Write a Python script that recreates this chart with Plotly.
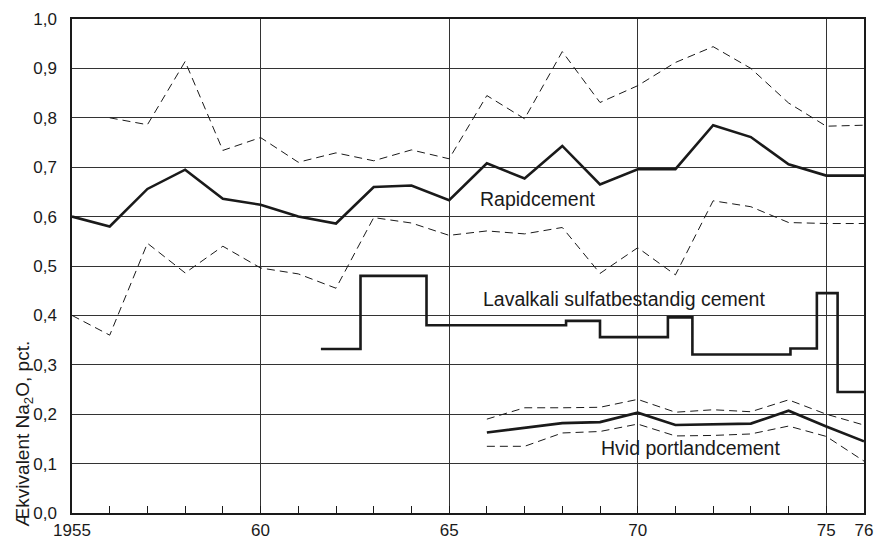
import plotly.graph_objects as go

years = list(range(1955, 1977))
rapid = [0.60, 0.58, 0.656, 0.695, 0.636, 0.624, 0.60, 0.586, 0.66, 0.663, 0.633,
         0.708, 0.677, 0.743, 0.665, 0.696, 0.696, 0.785, 0.761, 0.706, 0.683, 0.683]
rapid_up_years = list(range(1956, 1977))
rapid_up = [0.80, 0.786, 0.914, 0.734, 0.76, 0.71, 0.729, 0.713, 0.735, 0.717,
            0.845, 0.798, 0.934, 0.831, 0.865, 0.912, 0.944, 0.90, 0.83, 0.783, 0.785]
rapid_lo = [0.40, 0.36, 0.546, 0.486, 0.54, 0.496, 0.484, 0.455, 0.598, 0.587, 0.562,
            0.571, 0.565, 0.578, 0.485, 0.537, 0.482, 0.632, 0.62, 0.588, 0.586, 0.586]

lav_x = [1961.6, 1962.65, 1964.4, 1968.1, 1969.0, 1970.8, 1971.45, 1974.05, 1974.75, 1975.3, 1976]
lav_y = [0.332, 0.48, 0.38, 0.389, 0.356, 0.396, 0.321, 0.333, 0.445, 0.245, 0.245]

hvid_years = list(range(1966, 1977))
hvid = [0.163, 0.173, 0.182, 0.184, 0.203, 0.178, 0.179, 0.181, 0.207, 0.175, 0.145]
hvid_up = [0.19, 0.213, 0.213, 0.214, 0.23, 0.204, 0.209, 0.205, 0.229, 0.2, 0.178]
hvid_lo = [0.135, 0.135, 0.162, 0.165, 0.18, 0.156, 0.157, 0.16, 0.176, 0.155, 0.105]

labelled = {1955: "1955", 1960: "60", 1965: "65", 1970: "70", 1975: "75", 1976: "76"}
xtick_vals = years
xtick_text = [labelled.get(y, "") for y in years]
xgrid_vals = [1960, 1965, 1970, 1975]
ytick_vals = [0.0, 0.1, 0.2, 0.3, 0.4, 0.5, 0.6, 0.7, 0.8, 0.9, 1.0]
ytick_text = ["0,0", "0,1", "0,2", "0,3", "0,4", "0,5", "0,6", "0,7", "0,8", "0,9", "1,0"]

BLACK = "#1a1a1a"
FONT = "Liberation Sans, Arial, sans-serif"
thick = dict(color=BLACK, width=2.6)
dashed = dict(color=BLACK, width=1, dash="8px,5px")

fig = go.Figure()
fig.add_trace(go.Scatter(x=years, y=rapid, mode="lines", line=thick))
fig.add_trace(go.Scatter(x=rapid_up_years, y=rapid_up, mode="lines", line=dashed, xaxis="x2"))
fig.add_trace(go.Scatter(x=years, y=rapid_lo, mode="lines", line=dashed))
fig.add_trace(go.Scatter(x=lav_x, y=lav_y, mode="lines", line=dict(color=BLACK, width=2.6, shape="hv")))
fig.add_trace(go.Scatter(x=hvid_years, y=hvid, mode="lines", line=thick))
fig.add_trace(go.Scatter(x=hvid_years, y=hvid_up, mode="lines", line=dashed))
fig.add_trace(go.Scatter(x=hvid_years, y=hvid_lo, mode="lines", line=dashed))

ann_font = dict(family=FONT, size=19.5, color=BLACK)
fig.add_annotation(x=1967.35, y=0.636, text="Rapidcement", showarrow=False, font=ann_font)
fig.add_annotation(x=1969.63, y=0.433, text="Lavalkali sulfatbestandig cement", showarrow=False, font=ann_font)
fig.add_annotation(x=1971.4, y=0.131, text="Hvid portlandcement", showarrow=False, font=ann_font)
fig.add_annotation(xref="paper", yref="paper", x=-0.061, y=0.16, textangle=-90,
                   text="Ækvivalent Na<sub>2</sub>O, pct.", showarrow=False,
                   xanchor="center", yanchor="middle", font=dict(family=FONT, size=19, color=BLACK))

fig.update_layout(
    width=879, height=542,
    margin=dict(l=72, r=15, t=19, b=29),
    paper_bgcolor="white", plot_bgcolor="white",
    showlegend=False,
    font=dict(family=FONT, size=17, color=BLACK),
    xaxis=dict(
        range=[1955, 1976], tickvals=xtick_vals, ticktext=xtick_text,
        showgrid=False, automargin=False,
        ticks="inside", ticklen=7, tickwidth=1.3, tickcolor=BLACK,
        showline=True, linecolor=BLACK, linewidth=1.5, mirror=True,
        zeroline=False, tickfont=dict(size=17), ticklabelstandoff=1,
    ),
    xaxis2=dict(
        range=[1955, 1976], overlaying="x", side="bottom", tickvals=xgrid_vals,
        showgrid=True, gridcolor="#333333", gridwidth=1, showticklabels=False,
        ticks="", showline=False, zeroline=False, automargin=False,
    ),
    yaxis=dict(
        range=[0, 1.0], tickvals=ytick_vals, ticktext=ytick_text,
        showgrid=True, gridcolor="#333333", gridwidth=1, automargin=False,
        ticks="", showline=True, linecolor=BLACK, linewidth=1.5, mirror=True,
        zeroline=False, tickfont=dict(size=17), ticklabelstandoff=10,
    ),
)

fig.write_html("out.html", config={"displayModeBar": False},
               post_script="document.body.style.margin='0';")
